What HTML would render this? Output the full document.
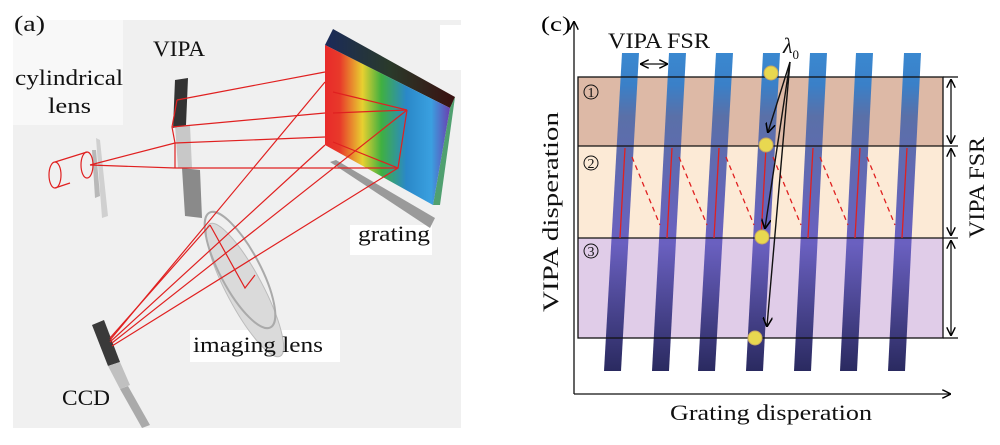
<!DOCTYPE html>
<html><head><meta charset="utf-8"><style>
body{margin:0;background:#fff;}
svg{display:block;font-family:"Liberation Serif",serif;}
</style></head><body>
<svg width="1000" height="445" viewBox="0 0 1000 445" xmlns="http://www.w3.org/2000/svg">
<defs>
<linearGradient id="spec" x1="0" y1="0" x2="1" y2="0">
<stop offset="0" stop-color="#e82a2a"/><stop offset="0.12" stop-color="#e83a2a"/><stop offset="0.3" stop-color="#e8d030"/><stop offset="0.45" stop-color="#40b040"/><stop offset="0.65" stop-color="#2a88c8"/><stop offset="0.85" stop-color="#3aa0e0"/><stop offset="1" stop-color="#6a40b0"/>
</linearGradient>
<linearGradient id="top" x1="0" y1="0" x2="1" y2="0">
<stop offset="0" stop-color="#1a2a5a"/><stop offset="0.5" stop-color="#2a3a2a"/><stop offset="1" stop-color="#3a1010"/>
</linearGradient>
<linearGradient id="bar" x1="0" y1="0" x2="0" y2="1">
<stop offset="0" stop-color="#3a88d0"/><stop offset="0.1" stop-color="#3a80c8"/><stop offset="0.2" stop-color="#5a70a8"/><stop offset="0.6" stop-color="#6a60c0"/><stop offset="1" stop-color="#2a2a60"/>
</linearGradient>
<marker id="ah" viewBox="0 0 10 10" refX="9" refY="5" markerWidth="7" markerHeight="7" orient="auto-start-reverse"><path d="M0,0 L10,5 L0,10" fill="none" stroke="#000" stroke-width="1.6"/></marker>
</defs>
<rect x="13" y="20" width="448" height="408" fill="#f0f0f0"/>
<rect x="13" y="20" width="110" height="105" fill="#f8f8f8"/>
<rect x="350" y="225" width="82" height="30" fill="#fff"/>
<rect x="190" y="330" width="150" height="32" fill="#fff"/>
<rect x="440" y="25" width="21" height="45" fill="#fff"/>
<polygon points="330,162 336,160 435,218 430,228" fill="#9a9a9a"/>
<polygon points="175,125 190,125 192,168 178,168" fill="#c8c8c8"/>
<polygon points="182,168 200,170 202,218 185,216" fill="#8a8a8a"/>
<polygon points="96,138 100,140 108,216 102,218" fill="#d0d0d0"/>
<polygon points="92,150 96,150 100,196 95,198" fill="#b8b8b8"/>
<ellipse cx="245" cy="290" rx="18" ry="75" transform="rotate(-28 245 290)" fill="#dadada" stroke="#bbb"/>
<ellipse cx="240" cy="270" rx="20" ry="65" transform="rotate(-28 240 270)" fill="none" stroke="#aaa" stroke-width="2"/>
<polygon points="92,325 104,320 120,362 108,366" fill="#3a3a3a"/>
<polygon points="108,366 120,362 130,385 120,389" fill="#c0c0c0"/>
<polygon points="120,389 128,386 150,425 142,428" fill="#aaa"/>
<polygon points="175,80 188,78 186,125 173,128" fill="#333"/>
<polygon points="325,45 333,29 455,97 450,108" fill="url(#top)"/>
<polygon points="450,108 455,97 440,205 433,205" fill="#50a070"/>
<polygon points="325,45 450,108 433,205 325,145" fill="url(#spec)"/>
<g stroke="#e02020" stroke-width="1.2" fill="none">
<ellipse cx="55" cy="175" rx="6" ry="13"/><ellipse cx="87" cy="165" rx="6" ry="13"/>
<line x1="55" y1="162" x2="87" y2="152"/><line x1="55" y1="188" x2="70" y2="183"/>
<line x1="90" y1="165" x2="175" y2="143"/><line x1="90" y1="165" x2="175" y2="168"/>
<polyline points="177,100 172,127 175,143 175,168"/>
<line x1="177" y1="100" x2="325" y2="72"/><line x1="172" y1="127" x2="325" y2="113"/>
<line x1="175" y1="143" x2="325" y2="137"/><line x1="175" y1="168" x2="398" y2="168"/>
<polyline points="333,92 407,110 333,113"/><polyline points="333,142 398,168 407,110"/>
<line x1="325" y1="82" x2="110" y2="340"/><line x1="325" y1="145" x2="110" y2="342"/>
<line x1="407" y1="110" x2="112" y2="343"/><line x1="398" y1="168" x2="112" y2="346"/>
<line x1="210" y1="225" x2="110" y2="338"/>
<polyline points="210,225 245,288 255,275"/>
</g>
<g font-size="22" fill="#111" lengthAdjust="spacingAndGlyphs">
<text x="14" y="31" textLength="31" lengthAdjust="spacingAndGlyphs">(a)</text>
<text x="153" y="56" textLength="52" lengthAdjust="spacingAndGlyphs">VIPA</text>
<text x="15" y="85" textLength="108" lengthAdjust="spacingAndGlyphs">cylindrical</text>
<text x="48" y="113" textLength="43" lengthAdjust="spacingAndGlyphs">lens</text>
<text x="358" y="241" textLength="72" lengthAdjust="spacingAndGlyphs">grating</text>
<text x="193" y="352" textLength="130" lengthAdjust="spacingAndGlyphs">imaging lens</text>
<text x="62" y="405" textLength="48" lengthAdjust="spacingAndGlyphs">CCD</text>
</g>
<text x="541" y="31" font-size="21" textLength="30" lengthAdjust="spacingAndGlyphs">(c)</text>
<rect x="578" y="77" width="365" height="69" fill="#ddb9a6"/>
<rect x="578" y="146" width="365" height="92" fill="#fcead6"/>
<rect x="578" y="238" width="365" height="100" fill="#e0cce8"/>
<g fill="url(#bar)">
<polygon points="622,53 639,53 621,371 604,371"/>
<polygon points="669,53 686,53 669,371 652,371"/>
<polygon points="716,53 733,53 715,371 698,371"/>
<polygon points="763,53 780,53 763,371 746,371"/>
<polygon points="810,53 827,53 811,371 794,371"/>
<polygon points="856,53 873,53 857,371 840,371"/>
<polygon points="904,53 921,53 905,371 888,371"/>
</g>
<g stroke="#111" stroke-width="1.3" fill="none">
<rect x="578" y="77" width="365" height="261"/>
<line x1="578" y1="146" x2="958" y2="146"/><line x1="578" y1="238" x2="958" y2="238"/>
<line x1="943" y1="77" x2="958" y2="77"/><line x1="943" y1="338" x2="958" y2="338"/>
<line x1="951" y1="80" x2="951" y2="143" marker-start="url(#ah)" marker-end="url(#ah)"/>
<line x1="951" y1="149" x2="951" y2="235" marker-start="url(#ah)" marker-end="url(#ah)"/>
<line x1="951" y1="241" x2="951" y2="335" marker-start="url(#ah)" marker-end="url(#ah)"/>
<line x1="641" y1="64" x2="667" y2="64" marker-start="url(#ah)" marker-end="url(#ah)"/>
<line x1="574" y1="394" x2="574" y2="22" marker-end="url(#ah)"/>
<line x1="574" y1="394" x2="950" y2="394" marker-end="url(#ah)"/>
</g>
<g stroke="#e02020" stroke-width="1.3" stroke-dasharray="5,4" fill="none">
<line x1="632" y1="157" x2="660" y2="225"/><line x1="679" y1="157" x2="707" y2="225"/>
<line x1="726" y1="157" x2="754" y2="225"/><line x1="773" y1="157" x2="801" y2="225"/>
<line x1="820" y1="157" x2="848" y2="225"/><line x1="867" y1="157" x2="895" y2="225"/>
</g>
<g stroke="#e02020" stroke-width="1.3">
<line x1="625" y1="148" x2="620" y2="238"/><line x1="672" y1="148" x2="667" y2="238"/>
<line x1="719" y1="148" x2="714" y2="238"/><line x1="766" y1="148" x2="761" y2="238"/>
<line x1="813" y1="148" x2="808" y2="238"/><line x1="860" y1="148" x2="855" y2="238"/>
<line x1="907" y1="148" x2="902" y2="238"/>
</g>
<g fill="#e8d850" stroke="#c8a860">
<circle cx="771" cy="73" r="7"/><circle cx="766" cy="145" r="7"/><circle cx="762" cy="237" r="7"/><circle cx="755" cy="338" r="7"/>
</g>
<g stroke="#111" stroke-width="1.4" fill="none">
<line x1="790" y1="62" x2="768" y2="132" marker-end="url(#ah)"/>
<line x1="790" y1="62" x2="765" y2="228" marker-end="url(#ah)"/>
<line x1="790" y1="62" x2="767" y2="326" marker-end="url(#ah)"/>
</g>
<g font-size="22" fill="#111">
<text x="608" y="48" textLength="102" lengthAdjust="spacingAndGlyphs">VIPA FSR</text>
<text x="783" y="53" font-style="italic" font-size="22">λ<tspan font-size="13" dy="6" font-style="normal">0</tspan></text>
<text x="670" y="420" textLength="202" lengthAdjust="spacingAndGlyphs">Grating disperation</text>
<text transform="translate(558,312) rotate(-90)" textLength="200" lengthAdjust="spacingAndGlyphs">VIPA disperation</text>
<text transform="translate(984,238) rotate(-90)" textLength="101" lengthAdjust="spacingAndGlyphs">VIPA FSR</text>
</g>
<g font-size="14" fill="#111">
<circle cx="591" cy="92" r="7" fill="none" stroke="#111"/><text x="591" y="97" text-anchor="middle">1</text>
<circle cx="591" cy="163" r="7" fill="none" stroke="#111"/><text x="591" y="168" text-anchor="middle">2</text>
<circle cx="591" cy="251" r="7" fill="none" stroke="#111"/><text x="591" y="256" text-anchor="middle">3</text>
</g>
</svg>
</body></html>
